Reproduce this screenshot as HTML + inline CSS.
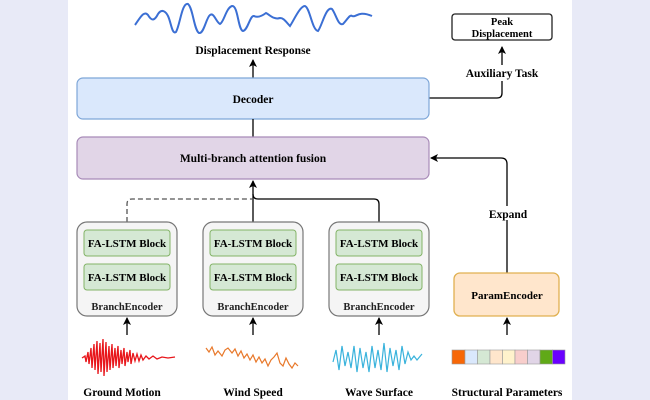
<!DOCTYPE html>
<html><head><meta charset="utf-8"><style>
html,body{margin:0;padding:0;width:650px;height:400px;overflow:hidden;background:#e8eaf7;}
svg text{font-family:"Liberation Serif",serif;font-weight:bold;fill:#000;}
</style></head><body>
<svg width="650" height="400" viewBox="0 0 650 400" xmlns="http://www.w3.org/2000/svg">
<defs>
<marker id="a" markerWidth="8" markerHeight="8" refX="7" refY="4" orient="auto" markerUnits="userSpaceOnUse">
<path d="M0,0 L8,4 L0,8 L2,4 z" fill="#000"/></marker>
</defs>
<rect x="68" y="0" width="504" height="400" fill="#fff"/>
<path d="M135,25 C140,18 144,10 148,15 C152,22 155,20 158,14 C162,8 166,12 168,16 C171,22 172,35 176,32 C180,25 182,2 188,4 C193,8 194,30 199,33 C204,34 206,18 210,15 C214,12 216,22 220,24 C224,22 226,8 232,6 C238,5 238,30 243,31 C248,30 250,15 254,16 C258,18 262,16 266,13 C270,15 274,20 280,18 C284,18 286,22 290,26 C294,20 300,6 305,6 C310,8 312,30 318,31 C322,26 326,6 332,9 C336,14 338,26 343,24 C347,20 350,14 352,16 C356,18 358,10 372,16" fill="none" stroke="#3b6fd4" stroke-width="2"/>
<text x="253" y="54" font-size="11.5" text-anchor="middle">Displacement Response</text>
<line x1="253" y1="78" x2="253" y2="60" stroke="#000" stroke-width="1.3" marker-end="url(#a)"/>
<rect x="452" y="14" width="100" height="26" rx="3" fill="#fff" stroke="#222" stroke-width="1.3"/>
<text x="502" y="25" font-size="10.5" text-anchor="middle">Peak</text>
<text x="502" y="37" font-size="10.5" text-anchor="middle">Displacement</text>
<text x="502" y="77" font-size="11.5" text-anchor="middle">Auxiliary Task</text>
<line x1="502" y1="65" x2="502" y2="47" stroke="#000" stroke-width="1.3" marker-end="url(#a)"/>
<path d="M429,98 L497,98 Q502,98 502,93 L502,81" fill="none" stroke="#000" stroke-width="1.3"/>
<rect x="77" y="78" width="352" height="41" rx="6" fill="#dae8fc" stroke="#7ea6d8" stroke-width="1.2"/>
<text x="253" y="103" font-size="11.5" text-anchor="middle">Decoder</text>
<line x1="253" y1="119" x2="253" y2="137" stroke="#000" stroke-width="1.3"/>
<rect x="77" y="137" width="352" height="42" rx="6" fill="#e1d5e7" stroke="#a88bb8" stroke-width="1.2"/>
<text x="253" y="162" font-size="11.5" text-anchor="middle">Multi-branch attention fusion</text>
<line x1="253" y1="222" x2="253" y2="181" stroke="#000" stroke-width="1.3" marker-end="url(#a)"/>
<path d="M127,222 L127,204 Q127,199 132,199 L253,199" fill="none" stroke="#555" stroke-width="1.3" stroke-dasharray="5,3"/>
<path d="M379,222 L379,204 Q379,199 374,199 L258,199 Q253,199 253,194" fill="none" stroke="#000" stroke-width="1.3"/>
<path d="M507,273 L507,164 Q507,158 501,158 L431,158" fill="none" stroke="#000" stroke-width="1.3" marker-end="url(#a)"/>
<rect x="488" y="206" width="40" height="14" fill="#fff"/>
<text x="508" y="218" font-size="11.5" text-anchor="middle">Expand</text>
<g id="b1">
<rect x="77" y="222" width="100" height="94" rx="10" fill="#f5f5f5" stroke="#777" stroke-width="1.2"/>
<rect x="84" y="230" width="86" height="26" rx="3" fill="#d5e8d4" stroke="#82b366"/>
<rect x="84" y="264" width="86" height="26" rx="3" fill="#d5e8d4" stroke="#82b366"/>
<text x="127" y="247" font-size="11" text-anchor="middle">FA-LSTM Block</text>
<text x="127" y="281" font-size="11" text-anchor="middle">FA-LSTM Block</text>
<text x="127" y="310" font-size="10.5" text-anchor="middle" style="font-weight:bold;fill:#222">BranchEncoder</text>
<line x1="127" y1="335" x2="127" y2="318" stroke="#000" stroke-width="1.3" marker-end="url(#a)"/>
</g>
<use href="#b1" x="126"/>
<use href="#b1" x="252"/>
<rect x="454" y="273" width="105" height="43" rx="6" fill="#ffe6cc" stroke="#e0b050" stroke-width="1.3"/>
<text x="507" y="299" font-size="11" text-anchor="middle">ParamEncoder</text>
<line x1="507" y1="335" x2="507" y2="318" stroke="#000" stroke-width="1.3" marker-end="url(#a)"/>
<path d="M82,358 L85,356 L86,362 L88,352 L89,364 L91,348 L92,368 L94,344 L95,370 L97,341 L98,374 L100,343 L101,372 L103,339 L104,376 L106,342 L107,372 L109,346 L110,370 L112,344 L113,368 L115,348 L116,366 L118,346 L119,368 L121,350 L122,364 L124,348 L125,366 L127,352 L128,362 L130,350 L131,364 L133,353 L135,361 L137,354 L139,361 L141,355 L143,360 L146,356 L149,359 L153,356 L157,359 L162,357 L168,358 L175,357" fill="none" stroke="#e8161b" stroke-width="1.3"/>
<path d="M206,348 L209,352 L212,347 L215,355 L218,351 L222,356 L225,350 L228,348 L232,353 L235,349 L238,356 L241,351 L244,358 L247,354 L250,360 L253,355 L256,362 L259,357 L262,363 L265,359 L268,366 L271,360 L274,357 L277,353 L280,363 L283,366 L286,358 L289,364 L292,368 L295,363 L298,366" fill="none" stroke="#e8782a" stroke-width="1.2"/>
<path d="M333,362 L336,350 L339,370 L342,346 L345,366 L348,352 L351,368 L354,346 L357,372 L360,348 L363,368 L366,352 L369,372 L372,346 L375,368 L378,350 L381,370 L384,343 L387,372 L390,348 L393,366 L396,350 L399,370 L402,346 L405,364 L408,352 L411,360 L414,356 L417,360 L422,354" fill="none" stroke="#3ab3dc" stroke-width="1.2"/>
<g stroke="#999" stroke-width="0.6">
<rect x="452" y="350" width="13" height="14" fill="#f76707"/>
<rect x="465" y="350" width="12.5" height="14" fill="#dae8fc"/>
<rect x="477.5" y="350" width="12.5" height="14" fill="#d5e8d4"/>
<rect x="490" y="350" width="12.5" height="14" fill="#ffe6cc"/>
<rect x="502.5" y="350" width="12.5" height="14" fill="#fff2cc"/>
<rect x="515" y="350" width="12.5" height="14" fill="#f8cecc"/>
<rect x="527.5" y="350" width="12.5" height="14" fill="#e1d5e7"/>
<rect x="540" y="350" width="12.5" height="14" fill="#60a917"/>
<rect x="552.5" y="350" width="12.5" height="14" fill="#6a00ff"/>
</g>
<text x="122" y="396" font-size="11.5" text-anchor="middle">Ground Motion</text>
<text x="253" y="396" font-size="11.5" text-anchor="middle">Wind Speed</text>
<text x="379" y="396" font-size="11.5" text-anchor="middle">Wave Surface</text>
<text x="507" y="396" font-size="11.5" text-anchor="middle">Structural Parameters</text>
</svg>
</body></html>
